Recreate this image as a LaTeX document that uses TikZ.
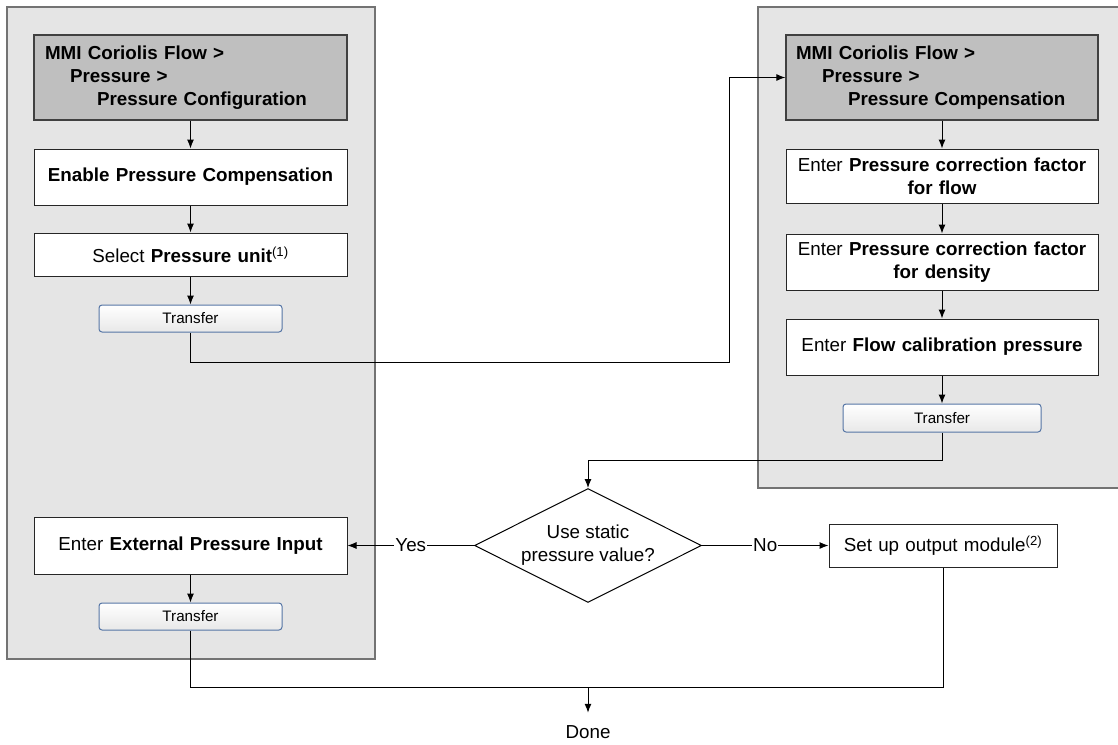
\documentclass[tikz,border=0pt]{standalone}
\usepackage{fontspec}
\setmainfont{Liberation Sans}
\usetikzlibrary{shapes.geometric,arrows.meta}
\definecolor{btnedge}{HTML}{5575A5}
\tikzstyle{panel} = [fill=black!10, draw=black!55, line width=1.5pt]
\tikzstyle{header} = [rectangle, draw=black!75, fill=black!25, line width=1.3pt, align=left, font=\fontsize{18.8}{23}\selectfont\bfseries, text width=291pt, inner xsep=11pt, minimum height=85pt]
\tikzstyle{block} = [rectangle, draw=black!85, fill=white, line width=1pt, align=center, text width=301pt, inner xsep=6pt, minimum height=56pt]
\tikzstyle{button} = [rectangle, rounded corners=3pt, draw=btnedge, line width=1pt, top color=white, bottom color=black!9, inner sep=0, minimum width=183pt, minimum height=27pt, font=\fontsize{15.2}{18}\selectfont]
\tikzstyle{decision} = [diamond, draw, fill=white, line width=1pt, aspect=2, align=center, inner sep=0, minimum width=227pt, minimum height=114pt]
\tikzstyle{lbl} = [fill=white, inner sep=1pt]
\tikzstyle{line} = [draw, line width=1pt, -{Latex[length=9pt, width=7pt]}]
\tikzstyle{wire} = [draw, line width=1pt]

\begin{document}
\begin{tikzpicture}[x=1pt, y=-1pt, font=\fontsize{18.8}{23}\selectfont]
\useasboundingbox (0, 0) rectangle (1118, 744);

% configuration panel
\draw [panel] (7, 7) rectangle (375, 659);

\node [header] at (190.5, 77.5) (lhead) {MMI Coriolis Flow >\\\hspace*{25pt}Pressure >\\\hspace*{52pt}Pressure Configuration};
\node [block] at (190.5, 177) (enable) {\textbf{Enable Pressure Compensation}};
\node [block, minimum height=43pt] at (190.5, 254.5) (unit) {Select \textbf{Pressure unit}\textsuperscript{(1)}};
\node [button] at (190.5, 318.5) (ltrans) {Transfer};
\path [line] (lhead.south) to (enable.north);
\path [line] (enable.south) to (unit.north);
\path [line] (unit.south) to (ltrans.north);

\node [block, minimum height=57pt] at (190.5, 545.5) (ext) {Enter \textbf{External Pressure Input}};
\node [button] at (190.5, 616.5) (btrans) {Transfer};
\path [line] (ext.south) to (btrans.north);

% compensation panel
\draw [panel] (758, 7) rectangle (1130, 488);

\node [header, text width=292pt, inner xsep=10pt] at (942, 77.5) (rhead) {MMI Coriolis Flow >\\\hspace*{26pt}Pressure >\\\hspace*{52pt}Pressure Compensation};
\node [block, text width=300pt, minimum height=54pt] at (942, 176) (flow) {Enter \textbf{Pressure correction factor}\\\textbf{for flow}};
\node [block, text width=300pt] at (942, 262) (dens) {Enter \textbf{Pressure correction factor}\\\textbf{for density}};
\node [block, text width=300pt] at (942, 347) (calib) {Enter \textbf{Flow calibration pressure}};
\node [button, minimum width=198pt, minimum height=28pt] at (942, 418) (rtrans) {Transfer};
\path [line] (rhead.south) to (flow.north);
\path [line] (flow.south) to (dens.north);
\path [line] (dens.south) to (calib.north);
\path [line] (calib.south) to (rtrans.north);

\coordinate (bendA) at (729, 362);
\path [line] (ltrans.south) |- (bendA) |- (rhead.west);

% decision
\node [decision] at (588, 545.5) (decide) {Use static\\pressure value?};
\node [block, text width=216pt, minimum height=43pt] at (943, 545.5) (outmod) {Set up output module\textsuperscript{(2)}};

\coordinate (bendB) at (588, 460);
\path [line] (rtrans.south) |- (bendB) -- (decide.north);
\path [line] (decide.west) -- node [lbl] {Yes} (ext.east);
\path [line] (decide.east) -- node [lbl] {No} (outmod.west);

% done
\node [inner ysep=13pt, inner xsep=0] at (588, 732.5) (done) {Done};
\coordinate (join) at (588, 687);
\path [wire] (btrans.south) |- (join);
\path [wire] (outmod.south) |- (join);
\path [line] (join) to (done.north);

\end{tikzpicture}
\end{document}
